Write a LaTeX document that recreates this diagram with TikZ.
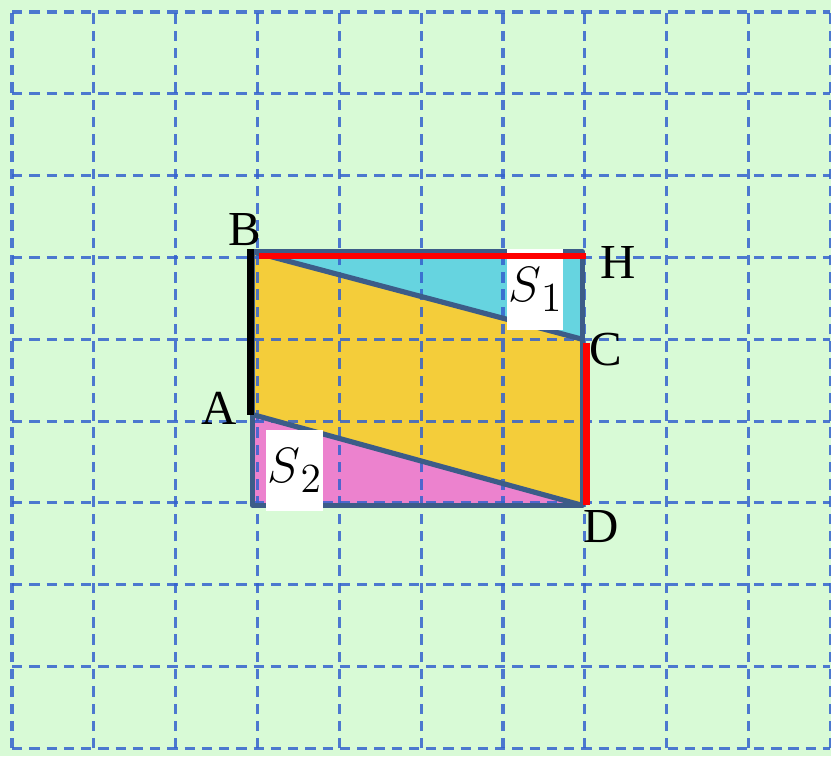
\documentclass[tikz,border=0pt]{standalone}
\usepackage{fontspec}
\setmainfont{Liberation Serif}
\definecolor{paper}{RGB}{216,250,214}
\definecolor{gridblue}{RGB}{52,98,206}
\definecolor{edgeblue}{RGB}{60,92,136}
\definecolor{topcyan}{RGB}{102,212,224}
\definecolor{midyellow}{RGB}{244,205,58}
\definecolor{lowpink}{RGB}{236,130,206}
\newcommand{\areaname}[1]{{\fontsize{19}{20}\selectfont$S$}\raisebox{-3.5pt}{\fontsize{15}{16}\selectfont$#1$}}
\tikzset{
  gridline/.style={gridblue, line width=1.1pt, dash pattern=on 3.6pt off 2.4pt, opacity=0.85},
  edge/.style={edgeblue, line width=1.8pt, line join=round},
  redline/.style={red, line width=2.2pt},
  blackline/.style={black, line width=2.4pt},
  ptlabel/.style={font=\fontsize{17}{20}\selectfont, inner sep=0pt},
  areabox/.style={fill=white, minimum width=0.69cm, minimum height=0.99cm, inner sep=0pt}
}
\begin{document}
\begin{tikzpicture}
    % Background
    \fill[paper] (-0.147,-0.098) rectangle (10.01,9.147);
    \useasboundingbox (-0.147,-0.098) rectangle (10.01,9.147);
    % Corners of the rectangle
    \coordinate (B) at (2.94,6.07);
    \coordinate (H) at (6.97,6.07);
    \coordinate (C) at (6.97,5.0);
    \coordinate (D) at (6.97,2.97);
    \coordinate (E) at (2.94,2.97);
    \coordinate (A) at (2.94,4.08);
    % Fill the three pieces
    \fill[topcyan] (B) -- (H) -- (C) -- cycle;
    \fill[midyellow] (B) -- (C) -- (D) -- (A) -- cycle;
    \fill[lowpink] (A) -- (D) -- (E) -- cycle;
    % Grid
    \foreach \gx in {0,...,10} {
        \draw[gridline] (\gx,0) -- (\gx,9);
    }
    \foreach \gy in {0,...,9} {
        \draw[gridline] (0,\gy) -- (10,\gy);
    }
    % Outline and the two cuts
    \draw[edge] (B) -- (H) -- (D) -- (E) -- cycle;
    \draw[edge] (B) -- (C);
    \draw[edge] (A) -- (D);
    % Area labels
    \node[areabox] (s1) at (6.39,5.61) {\areaname{1}};
    \node[areabox] (s2) at (3.45,3.40) {\areaname{2}};
    % Coloured sides
    \draw[redline] ([xshift=0.08cm,yshift=-0.05cm]B) -- ([xshift=0.05cm,yshift=-0.05cm]H);
    \draw[redline] ([xshift=0.05cm,yshift=-0.05cm]C) -- ([xshift=0.05cm]D);
    \draw[blackline] ([xshift=-0.03cm,yshift=0.03cm]B) -- ([xshift=-0.03cm]A);
    % Point labels
    \node[ptlabel] (lB) at (2.84,6.34) {B};
    \node[ptlabel] (lH) at (7.41,5.94) {H};
    \node[ptlabel] (lC) at (7.26,4.88) {C};
    \node[ptlabel] (lA) at (2.53,4.16) {A};
    \node[ptlabel] (lD) at (7.20,2.71) {D};
\end{tikzpicture}
\end{document}
